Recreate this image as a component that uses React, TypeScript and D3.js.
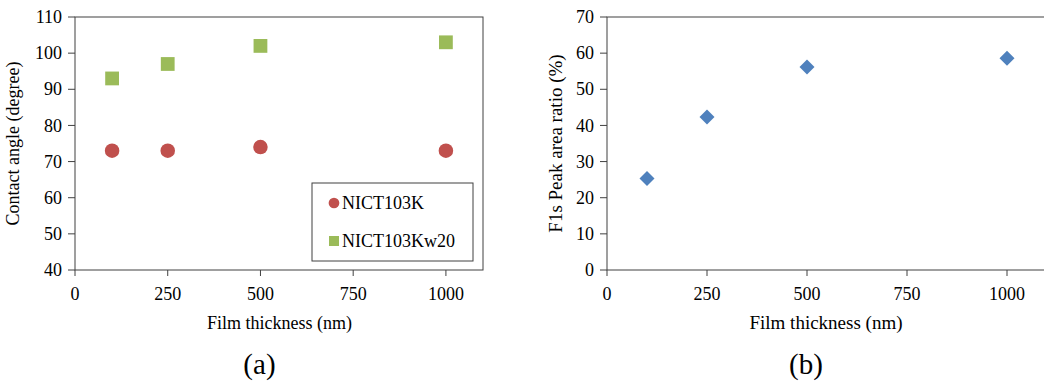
import * as d3 from 'd3';

const thickness = [100, 250, 500, 1000];
const nict103k = [73, 73, 74, 73];
const nict103kw20 = [93, 97, 102, 103];
const f1sRatio = [25.3, 42.3, 56.2, 58.6];

const xTicks = [0, 250, 500, 750, 1000];
const angleTicks = [40, 50, 60, 70, 80, 90, 100, 110];
const ratioTicks = [0, 10, 20, 30, 40, 50, 60, 70];

const FONT = "'Liberation Serif', 'Times New Roman', serif";
const AXIS = '#404040';
const RED = '#C0504D';
const GREEN = '#9BBB59';
const BLUE = '#4F81BD';

interface PanelProps {
  left: number;
  width: number;
  yDomain: [number, number];
  yTicks: number[];
  yTitle: string;
  yTitleX: number;
  titleSize: number;
  label: string;
  children: (x: d3.ScaleLinear<number, number>, y: d3.ScaleLinear<number, number>) => React.ReactNode;
}

const top = 17;
const bottom = 270;

function Panel({ left, width, yDomain, yTicks, yTitle, yTitleX, titleSize, label, children }: PanelProps) {
  const x = d3.scaleLinear().domain([0, 1100]).range([left, left + width]);
  const y = d3.scaleLinear().domain(yDomain).range([bottom, top]);

  return (
    <g>
      <rect
        x={x(0)}
        y={top}
        width={x(1100) - x(0)}
        height={bottom - top}
        fill="none"
        stroke={AXIS}
        strokeWidth={1}
      />
      {yTicks.map((t) => (
        <g key={`y${t}`}>
          <line x1={x(0) - 7} x2={x(0)} y1={y(t)} y2={y(t)} stroke={AXIS} />
          <text
            x={x(0) - 13}
            y={y(t)}
            dy="0.34em"
            textAnchor="end"
            fontSize={18}
            fontFamily={FONT}
            fill="#000"
          >
            {t}
          </text>
        </g>
      ))}
      {xTicks.map((t) => (
        <g key={`x${t}`}>
          <line x1={x(t)} x2={x(t)} y1={bottom} y2={bottom + 6} stroke={AXIS} />
          <text
            x={x(t)}
            y={bottom + 30}
            textAnchor="middle"
            fontSize={18}
            fontFamily={FONT}
            fill="#000"
          >
            {t}
          </text>
        </g>
      ))}
      <text
        transform={`translate(${yTitleX},${(top + bottom) / 2}) rotate(-90)`}
        textAnchor="middle"
        dy="0.34em"
        fontSize={titleSize}
        fontFamily={FONT}
        fill="#000"
      >
        {yTitle}
      </text>
      <text
        x={x(500) + 19}
        y={329}
        textAnchor="middle"
        fontSize={titleSize}
        fontFamily={FONT}
        fill="#000"
      >
        Film thickness (nm)
      </text>
      <text
        x={x(500) - 1}
        y={374}
        textAnchor="middle"
        fontSize={29}
        fontFamily={FONT}
        fill="#000"
      >
        {label}
      </text>
      {children(x, y)}
    </g>
  );
}

export default function App() {
  const square = d3.symbol(d3.symbolSquare, 190)();
  const circle = d3.symbol(d3.symbolCircle, 165)();
  const diamond = 'M0,-7.5L7.5,0L0,7.5L-7.5,0Z';

  return (
    <svg
      width={1044}
      height={386}
      style={{ position: 'absolute', left: 0, top: 0, background: '#fff' }}
    >
      <Panel
        left={75}
        width={408}
        yDomain={[40, 110]}
        yTicks={angleTicks}
        yTitle="Contact angle (degree)"
        yTitleX={13}
        titleSize={18}
        label="(a)"
      >
        {(x, y) => (
          <g>
            {thickness.map((t, i) => (
              <path key={`g${t}`} d={square!} transform={`translate(${x(t)},${y(nict103kw20[i])})`} fill={GREEN} />
            ))}
            {thickness.map((t, i) => (
              <path key={`r${t}`} d={circle!} transform={`translate(${x(t)},${y(nict103k[i])})`} fill={RED} />
            ))}
            <rect x={312} y={183} width={161} height={78} fill="#fff" stroke={AXIS} />
            <path d={d3.symbol(d3.symbolCircle, 90)()!} transform="translate(334,203)" fill={RED} />
            <text x={342} y={203} dy="0.34em" fontSize={18} fontFamily={FONT} fill="#000">
              NICT103K
            </text>
            <path d={d3.symbol(d3.symbolSquare, 100)()!} transform="translate(334,241)" fill={GREEN} />
            <text x={342} y={241} dy="0.34em" fontSize={18} fontFamily={FONT} fill="#000">
              NICT103Kw20
            </text>
          </g>
        )}
      </Panel>
      <Panel
        left={607}
        width={440}
        yDomain={[0, 70]}
        yTicks={ratioTicks}
        yTitle="F1s Peak area ratio (%)"
        yTitleX={556}
        titleSize={19}
        label="(b)"
      >
        {(x, y) => (
          <g>
            {thickness.map((t, i) => (
              <path key={`b${t}`} d={diamond} transform={`translate(${x(t)},${y(f1sRatio[i])})`} fill={BLUE} />
            ))}
          </g>
        )}
      </Panel>
    </svg>
  );
}
